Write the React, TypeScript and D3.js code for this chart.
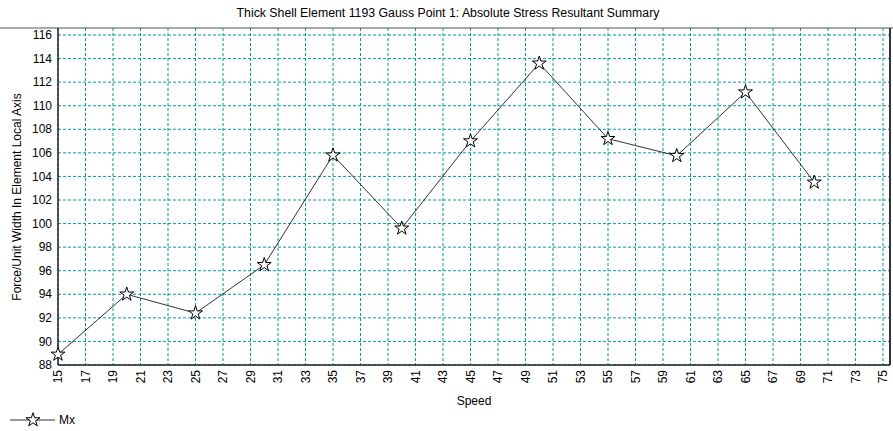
import React from "react";
import * as d3 from "d3";

const title = "Thick Shell Element 1193 Gauss Point 1: Absolute Stress Resultant Summary";
const xLabel = "Speed";
const yLabel = "Force/Unit Width In Element Local Axis";
const seriesName = "Mx";
const speeds = [15, 20, 25, 30, 35, 40, 45, 50, 55, 60, 65, 70];
const mxValues = [88.9, 94.0, 92.4, 96.5, 105.8, 99.6, 107.0, 113.6, 107.2, 105.75, 111.15, 103.5];
const xTicks = d3.range(15, 76, 2);
const yTicks = d3.range(88, 117, 2);

const W = 893, H = 431;
const left = 58, right = 890, top = 28, bottom = 365;
const GRID = "#0a9a9a";
const FONT = "'Liberation Sans', Arial, sans-serif";

export default function App() {
  const x = d3.scaleLinear().domain([15, 75]).range([left, 883]);
  const y = d3.scaleLinear().domain([88, 116]).range([bottom, 35]);
  const line = d3.line<number>().x((_, i) => x(speeds[i])).y((d) => y(d));
  const star = d3.symbol(d3.symbolStar, 60)() as string;

  return (
    <svg width={W} height={H} style={{ position: "absolute", left: 0, top: 0, background: "#fff" }} fontFamily={FONT}>
      <rect x={0} y={0} width={W} height={H} fill="#fff" />
      <text x={448} y={17} textAnchor="middle" fontSize={12.3} fill="#000">{title}</text>
      {/* grid */}
      {xTicks.map((t) => (
        <line key={"gx" + t} x1={x(t)} x2={x(t)} y1={top} y2={bottom} stroke={GRID} strokeWidth={1} strokeDasharray="3,2" />
      ))}
      {yTicks.map((t) => (
        <line key={"gy" + t} x1={left} x2={right} y1={y(t)} y2={y(t)} stroke={GRID} strokeWidth={1} strokeDasharray="3,2" />
      ))}
      {/* frame */}
      <line x1={0} x2={W} y1={top} y2={top} stroke="#555" strokeWidth={1} />
      <line x1={left} x2={left} y1={top} y2={bottom} stroke="#222" strokeWidth={1.5} />
      <line x1={left} x2={right} y1={bottom} y2={bottom} stroke="#222" strokeWidth={1.5} />
      <line x1={right} x2={right} y1={top} y2={bottom} stroke="#333" strokeWidth={2} />
      {/* y tick labels */}
      {yTicks.map((t) => (
        <text key={"yl" + t} x={52} y={y(t)} dy="0.35em" textAnchor="end" fontSize={12} fill="#000">{t}</text>
      ))}
      {/* x tick labels */}
      {xTicks.map((t) => (
        <text key={"xl" + t} transform={`translate(${x(t)},370) rotate(-90)`} dy="0.35em" textAnchor="end" fontSize={12} fill="#000">{t}</text>
      ))}
      <text x={474} y={405} textAnchor="middle" fontSize={12} fill="#000">{xLabel}</text>
      <text transform={`translate(21,197) rotate(-90)`} textAnchor="middle" fontSize={12} fill="#000">{yLabel}</text>
      {/* series */}
      <path d={line(mxValues) as string} fill="none" stroke="#333" strokeWidth={1} />
      {mxValues.map((v, i) => (
        <path key={"p" + i} d={star} transform={`translate(${x(speeds[i])},${y(v)})`} fill="#fff" stroke="#000" strokeWidth={1} />
      ))}
      {/* legend */}
      <line x1={10} x2={55} y1={420} y2={420} stroke="#333" strokeWidth={1} />
      <path d={star} transform="translate(33,420)" fill="#fff" stroke="#000" strokeWidth={1} />
      <text x={59} y={420} dy="0.35em" fontSize={12} fill="#000">{seriesName}</text>
    </svg>
  );
}
